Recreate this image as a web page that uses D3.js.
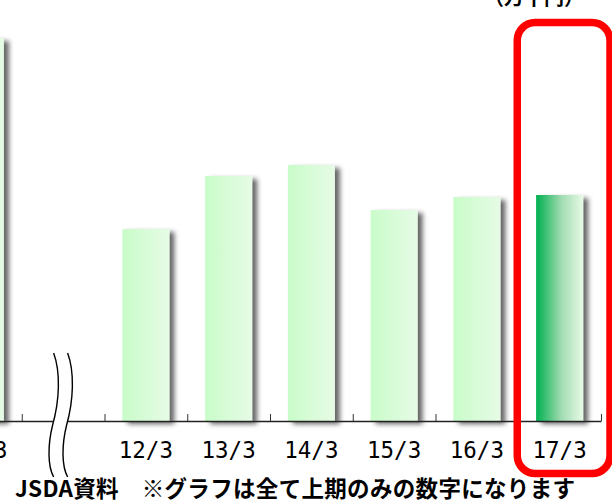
<!DOCTYPE html>
<html><head><meta charset="utf-8">
<script src="https://cdn.jsdelivr.net/npm/d3@7"></script>
<style>
html,body{margin:0;padding:0;background:#fff;overflow:hidden;}
svg{display:block;}
</style></head>
<body>
<svg id="chart" width="612" height="502"></svg>
<script>
// ---- data ----
const categories = ["08/3", "break", "12/3", "13/3", "14/3", "15/3", "16/3", "17/3"];
const values     = [383, null, 192, 245, 256, 211, 224, 226];
const highlight  = "17/3";
const unitLabel  = "（万千円）";
const sourceNote = "JSDA資料　※グラフは全て上期のみの数字になります";

// ---- layout ----
const W = 612, H = 502;
const baseY = 421;
const svg = d3.select("#chart");

const x = d3.scaleBand().domain(categories).range([-61, 601])
  .paddingInner(0.432).paddingOuter(0.216);
const step = x.step();
const y = d3.scaleLinear().domain([0, 400]).range([baseY, baseY - 400]);
const slotX = d3.scaleLinear().domain([0, categories.length]).range([-61, 601]);

const defs = svg.append("defs");
const gLight = defs.append("linearGradient").attr("id", "gLight").attr("x1", 0).attr("x2", 1).attr("y1", 0).attr("y2", 0);
gLight.append("stop").attr("offset", "0%").attr("stop-color", "#c9fcc9");
gLight.append("stop").attr("offset", "100%").attr("stop-color", "#e6fbe6");
const gDark = defs.append("linearGradient").attr("id", "gDark").attr("x1", 0).attr("x2", 1).attr("y1", 0).attr("y2", 0);
gDark.append("stop").attr("offset", "0%").attr("stop-color", "#00b050");
gDark.append("stop").attr("offset", "55%").attr("stop-color", "#a4dcb3");
gDark.append("stop").attr("offset", "100%").attr("stop-color", "#e6fbe6");
const f = defs.append("filter").attr("id", "shadow").attr("x", "-20%").attr("y", "-10%").attr("width", "160%").attr("height", "130%");
f.append("feDropShadow").attr("dx", 5).attr("dy", 3).attr("stdDeviation", 2.5)
  .attr("flood-color", "#000").attr("flood-opacity", 0.6);

// bars
const barData = categories.map((c, i) => ({c, v: values[i]})).filter(d => d.v != null);
svg.append("g").selectAll("rect").data(barData).join("rect")
  .attr("x", d => x(d.c))
  .attr("width", x.bandwidth())
  .attr("y", d => y(d.v))
  .attr("height", d => y(0) - y(d.v))
  .attr("fill", d => d.c === highlight ? "url(#gDark)" : "url(#gLight)")
  .attr("filter", "url(#shadow)");

// axis
const axis = d3.axisBottom(slotX).tickValues(d3.range(0, categories.length + 1))
  .tickSize(-7).tickSizeOuter(0).tickFormat("");
const ax = svg.append("g").attr("transform", `translate(0,${baseY})`).call(axis);
ax.select(".domain").attr("stroke", "#222").attr("stroke-width", 1.3);
ax.selectAll(".tick line").attr("stroke", "#333").attr("stroke-width", 1);

// category labels
svg.append("g").selectAll("text").data(categories.filter(c => c !== "break")).join("text")
  .attr("x", d => x(d) + x.bandwidth() / 2)
  .attr("y", 458)
  .attr("text-anchor", "middle")
  .attr("font-family", "DejaVu Sans Mono, monospace")
  .attr("font-size", 22.5)
  .attr("fill", "#000")
  .text(d => d);

// break mark
const bc = x("break") + x.bandwidth() / 2;
function wave(dx) {
  const p = d3.path();
  p.moveTo(bc + dx, 353);
  p.bezierCurveTo(bc + dx + 7, 372, bc + dx + 6, 400, bc + dx - 1, 425);
  p.bezierCurveTo(bc + dx - 6, 445, bc + dx - 6, 466, bc + dx, 477);
  return p.toString();
}
const w1 = -9.5, w2 = 4.5;
const fillPts = [];
for (let t = 0; t <= 1.0001; t += 0.05) fillPts.push(t);
const pth1 = svg.append("path").attr("d", wave(w1)).attr("fill", "none").node();
const pth2 = svg.append("path").attr("d", wave(w2)).attr("fill", "none").node();
const L1 = pth1.getTotalLength(), L2 = pth2.getTotalLength();
const poly = fillPts.map(t => pth1.getPointAtLength(t * L1)).concat(fillPts.slice().reverse().map(t => pth2.getPointAtLength(t * L2)));
svg.append("polygon").attr("points", poly.map(p => `${p.x},${p.y}`).join(" ")).attr("fill", "#fff");
pth1.remove(); pth2.remove();
[w1, w2].forEach(dx => svg.append("path").attr("d", wave(dx)).attr("fill", "none")
  .attr("stroke", "#000").attr("stroke-width", 1.4));

// highlight box
const hx = slotX(categories.indexOf(highlight));
svg.append("rect")
  .attr("x", hx - 1).attr("y", 22.5)
  .attr("width", step + 10).attr("height", 451)
  .attr("rx", 18).attr("ry", 18)
  .attr("fill", "none").attr("stroke", "#ff0000").attr("stroke-width", 7.5);

// unit label (cut at top, as in the reference)
svg.append("text").attr("x", 584).attr("y", 5)
  .attr("text-anchor", "end")
  .attr("font-family", "Noto Sans CJK JP").attr("font-weight", "bold").attr("font-size", 20)
  .attr("fill", "#000").text(unitLabel);

// source note
svg.append("text").attr("x", 15).attr("y", 497)
  .attr("font-family", "Noto Sans CJK JP").attr("font-weight", "bold").attr("font-size", 22.5)
  .attr("textLength", 560).attr("lengthAdjust", "spacing")
  .attr("fill", "#000").text(sourceNote);
</script>
</body></html>
